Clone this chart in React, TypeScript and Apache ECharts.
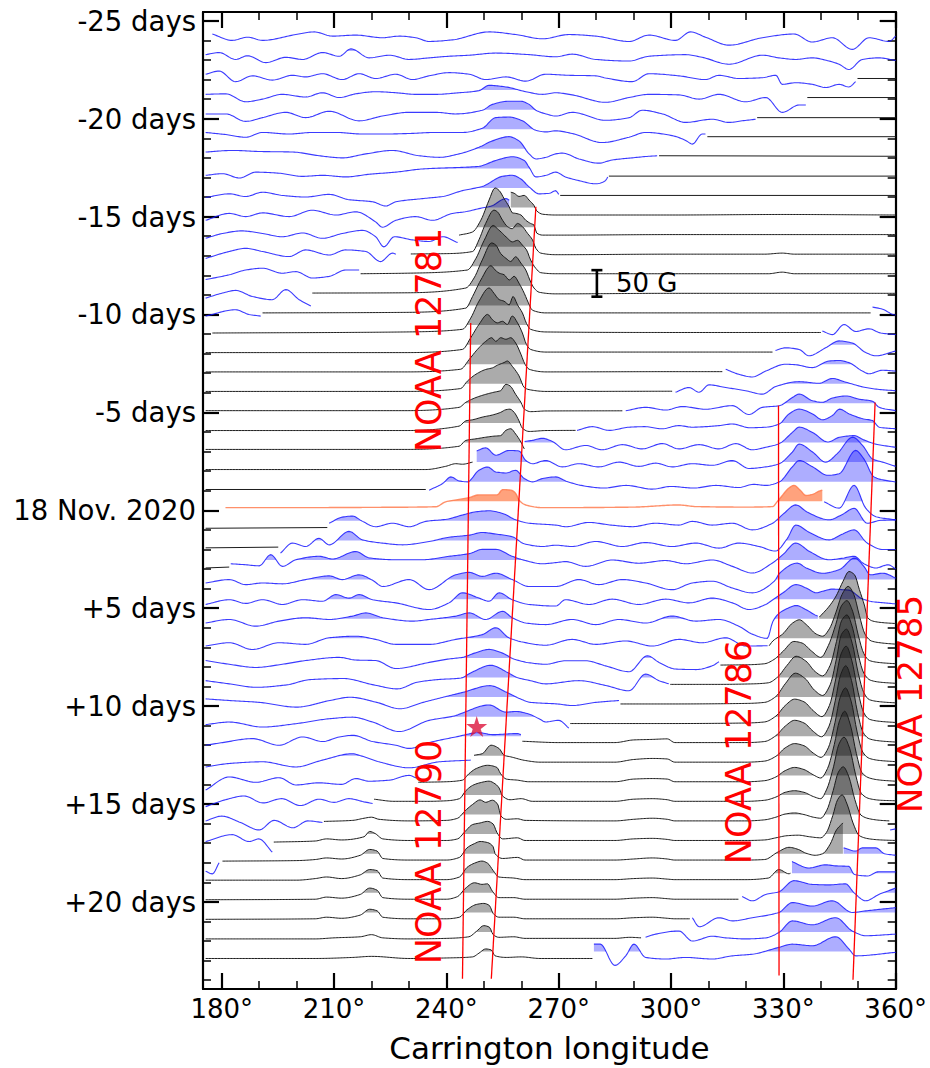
import React, { useEffect, useRef } from "react";
import * as echarts from "echarts";

// ---------- axes ----------
const LON_MIN = 175;
const LON_MAX = 360;
const DAY_MIN = -25.45;
const DAY_MAX = 24.45;
const X_MAJOR = [180, 210, 240, 270, 300, 330, 360];
const X_MINOR = [190, 200, 220, 230, 250, 260, 280, 290, 310, 320, 340, 350];
const Y_MAJOR = [-25, -20, -15, -10, -5, 0, 5, 10, 15, 20];
const Y_TICK_LABELS = ["-25 days", "-20 days", "-15 days", "-10 days", "-5 days", "18 Nov. 2020", "+5 days", "+10 days", "+15 days", "+20 days"];
const Y_MINOR = [-24, -23, -22, -21, -19, -18, -17, -16, -14, -13, -12, -11, -9, -8, -7, -6, -4, -3, -2, -1, 1, 2, 3, 4, 6, 7, 8, 9, 11, 12, 13, 14, 16, 17, 18, 19, 21, 22, 23, 24];

// ---------- scale ----------
const G_PER_ROW = 36.9; // field (G) equal to one day of row spacing
const FILL_THRESHOLD_G = 17;
const SCALE_BAR_G = 50;
const SCALE_BAR_POS = [280.2, -10.91];

// ---------- profiles: [day, [lon, G, lon, G, ...]] ----------
const BLUE_SEGMENTS = [
  [-24, [177.5,12, 182.8,0, 186.9,6, 190.9,0, 199.8,11, 204.7,16, 209.6,8, 215.8,10, 222.9,5, 227.4,8, 231.8,5, 235.4,-2, 241.6,1, 251.4,16, 258.5,11, 265.7,3, 272.7,11, 279.9,8, 288.8,-2, 294.1,10, 301.2,0, 305.2,16, 309.2,6, 315.5,-9, 324.4,5, 332.8,12, 337.7,-3, 343.1,5, 348.4,-17, 352.9,5, 358.2,-2, 360,8]],
  [-23, [175.7,10, 179.3,14, 183.7,1, 186.9,8, 191.8,-5, 197.1,5, 201.6,1, 206.9,14, 211.4,7, 214.5,21, 219.4,4, 224.8,9, 230.1,1, 235.4,4, 240.7,7, 246.1,9, 253.2,13, 262.1,10, 269.2,6, 273.6,11, 279.9,1, 288.8,-2, 294.1,7, 303.9,10, 308.3,5, 315.5,-8, 324.4,9, 328.8,4, 333.3,1, 337.7,4, 342.2,-2, 344.9,-8, 347.5,-18, 351.1,1, 355.5,4, 360,-1]],
  [-22, [175.7,10, 179.3,16, 183.7,-4, 188.2,7, 193.5,-1, 198.9,8, 202.4,5, 206.9,11, 212.2,0, 216.7,11, 221.1,2, 226.5,10, 230.9,0, 235.4,7, 240.7,13, 246.1,10, 250.5,0, 255.9,5, 261.2,-3, 266.5,10, 272.7,8, 279.9,7, 282.5,3, 289.6,-4, 294.1,11, 302.1,7, 309.2,0, 312.8,8, 318.1,2, 324.4,3.5, 328,8, 329.7,-9, 333.3,-6, 337.7,-9, 341.3,-15, 344.9,-9, 347.5,-14, 349.3,-4]],
  [-21, [175.7,9, 181.1,10, 186.4,-5, 190.9,0, 196.2,9, 202.4,4, 206.9,12, 211.4,3, 215.8,10, 221.1,14, 226.5,12, 231.8,9, 237.2,9, 243.4,12, 248.7,16, 251.4,26, 255.9,23, 261.2,14, 265.7,9, 269.2,12, 273.6,8, 282.5,-6, 288.8,3, 294.1,9, 302.1,8, 307.5,0, 312.8,9, 319.9,-5, 325.3,3, 329.7,-25, 334.2,-11, 336,-11]],
  [-20, [175.7,9, 181.1,9, 186.4,-5, 190.9,2, 197.1,12, 202.4,2, 208.7,14, 216.7,-4, 222.9,5, 230,12, 237.2,12, 242.5,9, 249.6,16, 252.3,27, 256.7,33, 259.9,33, 262.1,27, 263.9,16, 266.6,9, 269.2,5, 273.6,12, 282.5,-3, 288.8,2, 292.3,16, 297.7,9, 303.9,-7, 311,-1, 315.5,-7, 319,-4, 322.6,-1]],
  [-19, [175.7,11, 181.1,7, 186.4,2, 190.9,11, 198,8, 204.2,11, 210.5,11, 217.6,8, 222.9,8, 230,9, 237.2,11, 244.3,11, 249.6,19, 253.2,39, 256.7,40, 260.3,33, 263.9,15, 266.6,12, 269.2,14, 273.6,9, 281.6,-8, 288.8,2, 293.2,11, 300.3,5, 303.9,-4, 305.7,-11, 308.3,8, 309.2,8]],
  [-18, [175.7,11, 182.9,14, 190,12, 199,11, 206,4, 212.2,0, 218.5,7.5, 225.6,14, 232.7,4, 238.1,1, 243.4,7.5, 248.7,20, 252.3,32, 256.7,40, 259.4,32, 262.1,7.5, 263.9,-2, 266.6,1, 269.2,7.5, 271,9, 275.4,-2, 280.7,-10, 284.3,-4, 289.6,0, 293.2,2.5, 296.3,4]],
  [-17, [175.7,4, 180.2,7, 184.7,-1, 189.1,10, 195.3,8, 201.6,2, 206.9,4, 213.1,1, 219.4,6, 226.5,10, 233.6,16, 239.8,18, 244.3,19, 248.7,21, 253.2,32, 257.6,39, 260.8,32, 262.1,19, 263.9,1, 266.6,4, 269.2,10, 271.8,1, 275.4,-6, 279.9,-12, 282.5,-6, 283.1,1]],
  [-16, [175.7,-1, 182,6, 186.4,1, 190.9,9, 196.2,3, 202.4,0, 208.7,5, 214,-5, 220.3,-9, 223.8,-17, 226.5,-9, 233.6,-3, 239,1, 244.3,12, 249.6,20, 255,39, 257.6,41, 259.9,34, 262.1,19, 264.8,6, 267.5,7, 269.2,12, 270,5]],
  [-15, [175.7,-7, 182,6, 186.4,0, 190.9,7, 198,0, 204.2,12, 210.5,3, 215.8,9, 221.1,-10, 222.9,-20, 226.5,-7, 231.8,0, 236.3,-7, 241.6,6, 245,9, 248.7,15, 252,20, 255.9,34, 256.8,31]],
  [-14, [175.7,-4, 180.2,5, 185.3,10, 190.9,5, 196.2,-1, 201.6,6, 206.9,-4, 212.2,5, 217.6,11, 221.1,-1, 223.3,-20, 226.1,-1, 230.9,-7, 235.4,-10, 239,-1, 243,-12]],
  [-13, [175.7,-5, 182,8, 186.4,14, 190.9,8, 198,-1.5, 202.4,11, 208.7,1.5, 213.1,11, 218.5,8, 222.4,-11, 225.6,5, 226.5,3]],
  [-12, [175.7,-8, 182,1, 186.4,10, 190.9,13.5, 196.2,4, 199.8,7, 204.2,-5, 208.7,-2, 213.1,10, 216.7,10]],
  [-11, [175.7,-6, 180.2,3.5, 183.7,8.5, 188.2,-3, 193.5,-9, 197.1,10, 200.7,-9, 203.8,-21]],
  [-10, [175.7,-3, 183.7,9, 187.3,0, 190.4,-3]],
  [-10, [353.8,14, 356.5,10, 359.3,0, 360,-1]],
  [-9, [340.4,6, 343.1,-1, 346.2,18, 349.3,5, 352.9,10, 356,2, 360,-1]],
  [-8, [327.9,6, 330.6,11, 334.2,8, 336.8,-4, 341.3,11, 344.9,24, 348.4,20, 352,2, 354.7,-4, 360,5]],
  [-7, [314.6,7.5, 318.1,-2, 321.7,-7, 325.3,4, 330.6,17, 333.3,16, 337.7,10.6, 342.2,23, 344.9,24, 347.5,20, 351.1,4, 352.9,-1, 356.4,5.6, 360,4]],
  [-6, [301.2,1, 304.8,10, 307.5,1, 310.1,15, 314.6,10, 319.9,4, 324.4,-2.5, 328,12, 334.2,21, 339.5,18, 343.1,27, 346.7,20, 352,10, 356,6, 360,4]],
  [-5, [287.9,3, 293.2,9.5, 298.6,4.5, 303,11, 309.2,6, 316.4,12.7, 320.8,-4, 324.4,9.5, 328.9,12.6, 332.4,28, 334.2,34.5, 337.8,22, 340.4,19, 343.1,27, 346.7,31, 350.2,25, 353.8,21, 355.6,9.5, 360,3.3]],
  [-4, [274.9,3, 279,10, 283.5,3, 288.8,9, 293,10, 297.6,6, 302,12, 305.7,9, 309.2,10, 312.8,12, 316.4,15, 321,8, 325.3,9, 328.9,15, 331.5,34, 334.2,43, 337.8,34, 340.4,23, 343.1,31, 345,43, 347.6,34, 351.2,25, 353.8,21.5, 355.6,9, 360,6]],
  [-3, [260.9,19, 262.9,21, 265.7,25, 268.3,19, 271.8,3.4, 277.2,11.5, 281.6,3.4, 287,13, 292.3,5, 297.7,15, 302.1,5, 307.5,13, 312.8,5, 317.3,15, 321.7,3.4, 325.3,8, 328.9,15, 332.4,36, 334.2,46, 337.8,36, 341.9,18, 345,27, 348.9,30, 351.5,22, 354.7,14, 360,8]],
  [-2, [248.1,38, 250.5,44, 253.2,30, 256.7,39, 259.4,38, 261.2,20, 263,14, 266.5,20, 271,8, 275.4,14, 280.7,8, 286.1,17, 291.4,9, 295.9,15, 300.3,8, 305.7,14, 311,11, 316.4,20, 320.8,5, 325.3,8, 328.9,14, 332.4,36, 334.2,51, 337.8,36, 341.3,17, 344.4,33, 348.5,64, 351.2,48, 353.8,23, 356.5,17, 360,9]],
  [-1, [235.4,1, 239,13.5, 241.2,26, 243.4,18.5, 245.6,16.7, 248.7,38.5, 251,44.7, 253.2,35.4, 255.9,33.5, 258.5,38.5, 260.8,23, 263,16.7, 265.7,23, 269.2,26, 272,18, 276,10, 282,5, 288,10, 295,3, 300,8, 306,5, 312,10, 318,6, 322,12, 325.3,10, 328.9,16.5, 332.4,45, 334.2,57, 337.8,45, 341.9,29, 344.9,32, 349.3,76, 351.5,60, 354.2,26, 356.9,20, 360,16.5]],
  [0, [340.9,16, 344.9,4, 348.9,47, 352,4, 354.7,-12, 360,-18]],
  [1, [208.7,12.5, 212.2,24, 214.9,26, 217.6,16, 221.1,6, 225.6,12.5, 230.1,6, 234.5,16, 240,20, 244.3,28, 247.9,34, 251.4,36, 255,31, 258.5,19, 262.1,12.5, 269.2,9, 272,6, 278,14, 284,9, 289.6,6, 296,12.5, 302,9, 305.7,16, 311,9, 316.4,12.5, 321.7,0, 327,12, 330,30, 333.3,47, 336.5,33, 342.2,19, 345.5,28, 348.9,40.6, 352.4,12.5, 356,18, 360,19]],
  [2, [195.7,-7, 198.9,12, 202.4,5.6, 206,21, 208.7,8.7, 214,34, 217.6,18, 222.9,12, 228.3,8.7, 235.4,15, 240.7,23, 246.1,27, 249.6,32, 253.2,29, 257.6,24, 260.8,10.6, 265.7,5.6, 269.2,8, 273.6,5.6, 279.9,15, 287,5.6, 293.2,13, 300.3,5.6, 306.6,12, 312.8,2.5, 318.1,12, 323.5,5.6, 327.9,-3, 331,20, 333.3,46, 337,32, 342.2,18, 345.5,28, 348.9,37, 352.4,12, 356.5,0, 360,0]],
  [3, [182.4,10, 186.4,8, 190,6, 193.1,27, 196.2,5, 199.8,17.5, 206,24, 209.6,19, 215.8,33, 219.4,21, 226.5,17.5, 233.6,17.5, 240.7,24, 246.1,29, 249.6,37, 253.2,37, 257.6,24, 260.3,17.5, 265.7,10, 269.2,12, 271.8,14, 277.2,5, 284.3,17, 291.4,11, 298.6,16, 303.9,10, 311,17, 316.4,5, 321.7,-7.5, 327,11, 330,28, 333.3,49, 337,33, 342.2,17.5, 345.5,20, 348.9,24, 351.5,10, 354.7,2, 358,8, 360,0]],
  [4, [175.7,10.6, 182,17, 186.4,7.5, 190.9,10.6, 196.2,9, 202.4,17, 208.7,24, 212.2,17, 216.7,26, 220.3,15.6, 223,4, 230.1,17, 235.4,-2, 242.5,26, 246.1,30.6, 249.6,23, 253.2,29, 257.6,17, 262.1,4, 269.2,4, 275.4,17, 280.7,7.5, 287,17, 293.2,10.6, 300.3,-2, 305.7,10.6, 311,14, 316.4,1, 321.7,-8, 327.6,14, 329,29, 333.7,48, 336.1,39, 340.5,29, 345,36, 349,57.5, 351.5,42, 353.2,26, 356.6,29, 360,20]],
  [5, [175.7,7, 182,16, 186.4,9, 190.9,16, 196.2,7, 201.6,16, 206.9,13, 210.5,25.6, 214,19, 216.7,25.6, 220.3,16, 226.5,10, 235.4,-2.5, 240.7,10, 244.3,29, 248.7,19, 251.4,13, 254.1,29, 257.6,16, 262.1,7, 269.2,4, 271.8,16, 278.1,7, 284.3,17, 291.4,7, 298.6,17, 304.8,10, 311,19, 316.4,10, 320.8,-2.5, 325.3,7, 327.2,16, 329.9,29, 333.4,44.5, 336.1,38, 338.8,29, 340.5,32, 343.2,36, 345.5,35, 347.5,34, 351,18, 354,12, 357,10, 360,8]],
  [6, [175.7,9, 182,15.6, 189.1,3, 195.3,12.5, 202.4,19, 208.7,15.6, 214.9,22, 218.5,28, 223,19, 231,12.5, 235.4,15.6, 242.5,22, 246.1,28, 250.5,15.6, 255,31, 257.6,19, 261.2,9, 266.5,6, 273.6,15.6, 279.9,6, 286.1,15.6, 293.2,9, 300.3,22, 306.6,12.5, 312.8,15.6, 318.1,3, 321.7,-12, 325.7,-20, 327.2,12, 329,28, 331.6,38, 333.4,42, 336.1,34, 338.8,23, 339.2,22]],
  [7, [175.7,2.5, 182,8.7, 188.2,-4, 195.3,8.7, 202.4,5.6, 208.7,18, 215.8,21, 221.1,15, 226.5,5.6, 235.4,5.6, 242.5,15, 249.6,24, 253.2,37, 256.7,18, 260.3,10, 266.5,4, 273.6,15, 279.9,5.6, 287.9,12, 295,2.5, 302.1,15, 308.3,8.7, 314.6,18, 319.9,2.5, 325.8,3]],
  [8, [175.7,12, 182,5, 189.1,-1, 196.2,5, 202.4,12, 211.4,18, 215.8,13, 221.1,12, 226.5,-3, 235.4,8.5, 240.7,15, 244.3,18, 247.5,26, 251.4,33, 255,26, 258,15, 262,8, 266.5,5, 271.8,11.6, 277.2,11.6, 282.5,2, 288.8,-9, 293.7,21, 296.8,8.5, 301.2,-4, 306.6,-5, 311,2, 312.8,9.7]],
  [9, [175.7,11, 182,5, 189.2,-1.5, 197.3,3, 203.6,13, 212.5,15, 220.6,3, 226.9,-4.5, 232.2,8, 237.6,13, 243.9,16, 246.6,26, 251.9,40, 256.3,26.6, 258.9,17, 262.5,11, 266.5,5, 275.4,11, 282.5,2, 288.8,-8, 293.2,23.5, 296.8,11, 299.4,5]],
  [10, [175.7,13.6, 182,10.5, 190,7, 200,-2, 208.9,10.5, 214.3,16.7, 221.4,7, 227.6,-5, 233.8,7, 240.9,19.8, 244.5,26, 251.6,38.5, 256.1,26, 259.7,13.6, 262.5,7, 269.7,4, 273.6,1, 279.9,7, 286.1,10.5]],
  [11, [175.7,2, 182,6.8, 190.9,-2.6, 199.8,3.7, 208.7,13, 214.9,16, 220.3,6.8, 227.4,-11, 235.4,10, 242.5,19, 244.3,24, 251.4,39, 255.9,25.5, 258.5,26.8, 262,22, 265,12, 266.5,7, 270,10, 272.7,-4.5]],
  [12, [175.7,0, 180.2,5, 188.2,12.5, 195.3,0, 201.6,15.6, 207,7, 211.4,15.6, 215,18.7, 220.3,7, 226.5,0, 230.1,-6, 235.4,5, 242.5,15.6, 248.7,23.7, 252.3,20, 259,22, 259.9,20]],
  [13, [175.7,-4, 182,2.5, 190.9,5.7, 199.8,-4, 206.9,8.8, 214.9,21, 216.7,18, 222,5.7, 230.1,-5.6, 238.1,5.7, 246.5,8.8]],
  [14, [175.7,-10.7, 182,14, 189.1,4, 195.3,12.6, 199.8,-1, 206,3, 212,0, 215.8,11, 219.4,6, 224.8,8, 230,17, 232,12]],
  [15, [175.7,-5, 181,8, 186,15, 191,2, 196,10, 201,-3, 206,9, 210,3, 214,10, 218,4, 220.3,1]],
  [16, [175.7,5, 180,14, 185,2, 190,-12, 194,6, 199,-8, 203,5, 206.9,2]],
  [16, [358.5,-12, 360,-10]],
  [17, [175.7,3, 182.8,16, 187.3,3, 189.9,8, 193.5,-17]],
  [18, [175.7,-16, 177.5,-21, 179.3,0]],
  [18, [346.1,28, 349.3,22, 351.1,28, 354.7,28, 357,17, 360,14]],
  [19, [332.3,39, 336.8,27, 341.3,33, 343.9,31, 347.5,30, 348.9,15, 352.5,12, 355.5,20, 360,20]],
  [20, [319,10, 321.7,2, 325.3,14, 328.8,19, 332.8,40, 337.7,33, 342.2,32, 346.6,34, 348.9,17, 352,2, 355.5,14, 360,26]],
  [21, [305.7,7, 307.5,-10, 312.8,7, 316.4,1, 321.7,7, 328.8,17, 332.4,35.6, 337.7,29, 343.1,39, 348.4,17, 352,20, 360,26]],
  [22, [293.2,7, 295.9,13, 302.1,19, 305.7,0, 311,9, 314.6,6, 319.9,4, 325.3,6, 328.8,16, 332.4,38, 337.7,30.6, 344,44, 348.4,19, 352,10, 360,13]],
  [23, [279.4,31, 281.1,31, 285,-9, 287.9,9, 290.1,31, 293.2,6, 298.6,3, 303.9,6, 311,3, 316.4,9, 321.7,12, 328.8,25, 332.4,31, 337.7,28, 344,45, 347.5,22, 349.3,9, 360,15.6]],
];

const BLACK_SEGMENTS = [
  [-22, [349.8,2, 360,2]],
  [-21, [336.4,3, 360,3]],
  [-20, [323,2, 360,2]],
  [-19, [309.7,3, 360,3]],
  [-18, [296.8,4, 360,3]],
  [-17, [283.4,2.5, 360,2.5]],
  [-16, [270.4,3, 360,3]],
  [-15, [257.2,46, 258.1,44, 259.4,38, 260.8,40, 262.1,31, 263.4,21, 264.1,11, 265.7,4.5, 269.2,3, 300,3, 330,4, 360,3]],
  [-14, [243.4,2, 247,8, 249.2,30, 251.4,68, 253,91, 254.1,86, 255.4,71, 256.8,55, 257.6,44, 258.5,43, 259.9,40, 261.2,30, 262.5,24, 263.4,21, 264.1,6, 265.7,2, 269.2,2, 300,3, 330,3, 360,3]],
  [-13, [230.5,3.4, 240,4, 247,8, 248.7,30, 250.5,61, 252.7,86, 253.6,83, 255,67, 256.3,55, 257.6,51, 259,61, 260.3,55, 261.7,42, 263,30, 263.9,14, 265.2,5, 269.2,2, 300,3, 325,3, 329.7,5, 333,3, 360,3]],
  [-12, [217.1,3, 229.2,4, 245.6,10, 247.9,32, 250.1,66, 252.5,94, 253.6,88, 255,79, 256.3,70, 257.6,63, 259,66, 260.3,57, 261.4,48, 262.5,29, 263.9,13, 265.2,5, 269.2,3, 300,3, 326,3, 329.7,6, 333,3, 360,3]],
  [-11, [204.2,3.5, 229.2,4, 245.2,13, 247.4,32, 249.6,66, 252.1,98, 253.2,94, 254.5,78, 255.9,69, 257.2,63, 258.5,72, 259.9,60, 261.2,47, 262.3,28, 263.4,13, 264.8,5, 269.2,2, 300,3, 360,3]],
  [-10, [190.9,3, 229,4, 245.2,12, 247,34, 249.2,65, 251.9,92, 253,84, 254.1,78, 255.4,75, 256.8,65, 258.1,72, 259.4,59, 260.8,40, 261.9,22, 263,8, 266.6,3, 300,3, 353.3,3]],
  [-9, [177.5,2, 229,4, 244.3,9, 246.5,30, 248.7,62, 251.4,87, 252.7,77, 254.1,65, 255.4,62, 256.8,55, 257.8,71, 259,55, 260.3,40, 261.4,20, 262.5,9, 266.6,4, 300,3, 340,3]],
  [-8, [175.7,2, 229.2,2, 244.3,8, 246.5,30, 248.7,55, 251,74, 252.3,64, 253.6,58, 255,61, 256.3,55, 257.6,71, 259,58, 260.3,39, 261.4,17, 262.5,8, 266.6,3, 300,3, 327.1,3]],
  [-7, [175.7,2.5, 229.2,2.5, 243.8,7.5, 246.1,26, 248.3,45, 250.5,60, 252.1,67, 253.2,60, 254.5,67, 255.9,64, 257.2,67, 258.5,57, 259.9,36, 261,17, 262.1,7.5, 266.6,2.5, 300,3, 313.7,3]],
  [-6, [175.7,2.6, 229.2,2.6, 243.8,8, 245.6,22, 247.9,35, 250.5,44, 252.3,47, 253.6,52, 255.4,57, 256.3,60, 257.6,50, 259.4,32, 260.8,10, 262.1,6, 266.6,2.6, 300.3,3]],
  [-5, [175.7,3.3, 229.2,3.3, 243.4,9.5, 245.2,19, 247.9,28, 250.5,34, 252.7,38, 254.5,41, 255.9,53, 257,50, 258.5,34, 259.9,19, 260.8,6.4, 262.5,1.4, 266.6,2.7, 287,3]],
  [-4, [175.7,2.7, 229.2,2.7, 243.4,11, 245.2,21, 247,23, 249.6,28, 252.3,32, 254.5,37, 255.9,42, 257,43, 258.1,37, 259.4,21, 260.3,7, 262.1,1, 266.6,2.7, 274.5,3]],
  [-3, [175.7,4, 229.2,4, 243.4,10, 245.2,21, 247.9,24, 250.5,27, 252.7,29, 254.5,30, 255.9,40, 257.2,43, 258.5,33, 259.9,18, 260.8,5]],
  [-2, [175.7,3, 234.5,3, 239.8,9, 242.5,14, 244.3,13, 247,17]],
  [-1, [175.7,2.3, 234.5,2.3]],
  [1, [175.7,3, 208.2,4.4]],
  [2, [175.7,3, 195.1,4.4]],
  [3, [175.7,2, 182,3.7]],
  [6, [339.6,20, 342.3,41, 344.1,60, 345.9,87, 347.5,106, 349,100, 350.3,72, 351.7,41, 352.5,19, 353.9,12.6, 356.6,9.6, 360,8]],
  [7, [326.2,3, 327.2,12, 329.8,25, 332.5,46, 334.3,52, 336.1,43, 338.8,25, 340.5,21, 342.3,35, 344,65, 345.7,100, 347.3,115, 348.8,100, 350.3,60, 351.8,25, 353.5,12, 356.6,8, 360,6]],
  [8, [313.2,3.5, 320,4, 325,6, 327.5,14, 330,30, 332.8,48, 335,45, 337.5,30, 340,18, 342,40, 344,80, 345.5,115, 347,125, 348.5,105, 350,60, 351.5,25, 353,12, 356,8, 360,6]],
  [9, [299.8,4, 312,4, 322,5, 326,7, 328.5,18, 331,40, 333.4,57, 336,48, 338.5,28, 340.5,20, 342.5,40, 344.2,85, 345.6,125, 347,135, 348.5,110, 350,60, 351.5,25, 353.2,12, 356,8, 360,6]],
  [10, [286.5,4, 300,4, 320,5, 325,7, 328,18, 330.5,42, 333.2,62, 335.8,52, 338.3,30, 340.5,20, 342.5,40, 344.2,90, 345.5,135, 346.9,145, 348.4,118, 350,62, 351.5,25, 353,12, 356,8, 360,6]],
  [11, [273.1,4, 300,4, 320,5, 325,7, 328,18, 330.5,38, 333,50, 335.5,45, 338,28, 340.3,17, 342.3,38, 344,88, 345.4,135, 346.8,150, 348.3,122, 350,62, 351.5,24, 353,12, 356,8, 360,6]],
  [12, [260.3,7.5, 270,5, 285,5, 290,10, 295,11, 299,12, 301,5, 320,5, 325,7, 328,18, 330.5,36, 333,47, 335.5,42, 338,26, 340.2,16, 342.2,36, 343.9,85, 345.3,133, 346.7,150, 348.2,122, 349.8,62, 351.3,24, 353,12, 356,8, 360,6]],
  [13, [247.4,18, 249.6,21, 251.9,37, 254.1,30.6, 255.4,18, 257.2,15, 261.2,8, 265,5, 285,5, 290,10, 295,12, 299,11, 301,5, 320,5, 325,7, 328,16, 330.5,32, 333,40, 335.5,36, 338,22, 340.1,14, 342,32, 343.8,80, 345.2,128, 346.6,145, 348.1,120, 349.7,62, 351.2,24, 353,12, 356,8, 360,6]],
  [14, [232.5,4, 240,5, 244.3,8, 246,20, 248,30, 251,36, 253.5,32, 254.5,20, 256,10, 259,8, 262,5, 285,5, 290,10, 295,11, 299,10, 301,5, 320,5, 325,7, 328,14, 330.5,26, 333,32, 335.5,28, 338,18, 340,12, 341.8,30, 343.6,75, 345,120, 346.4,138, 347.9,112, 349.5,58, 351,22, 353,12, 356,8, 360,6]],
  [15, [220.7,9, 226,5, 235,5, 240,6, 243.5,10, 245.2,25, 247,35, 249,40, 251.4,43, 253,38, 254.1,30, 255,15, 257,8, 260,10, 263,5, 285,5, 290,9, 295,10, 299,8, 301,5, 320,5, 325,7, 328,13, 330.5,22, 333,25, 335.5,22, 338,14, 340,10, 341.6,28, 343.4,70, 344.8,112, 346.2,126, 347.7,105, 349.3,55, 350.8,20, 353,10, 356,7, 360,6]],
  [16, [207.3,4, 215,6, 218,10, 220,12, 222,8, 230,5, 240,6, 243,10, 245,24, 247,36, 249,44.6, 250.5,40, 252.3,44, 253.8,35, 254.5,15, 256,8, 259,9, 261,6, 285,5, 290,8, 295,10, 299,8, 301,5, 320,5, 325,7, 328,12, 330.5,18, 333,20, 335.5,17, 338,12, 340,10, 341.6,25, 343.3,62, 344.7,97, 346,107, 347.5,88, 349.1,45, 350.7,16, 353,9, 356,6, 358.3,5]],
  [17, [193.9,2, 205,4, 208,8, 212,6, 218,12, 219.5,22, 221,18, 223,8, 230,5, 240,5, 243,8, 245,22, 247,35, 249,38, 251,41, 252.5,36, 253.5,20, 255,8, 259,10, 261,5, 285,5, 290,8, 295,9, 299,7, 301,5, 320,5, 325,6, 328,10, 331,14, 334,15, 337,12, 340,10, 341.5,20, 343.2,52, 344.5,82, 345.7,91, 347.1,72, 348.6,38, 350.3,14, 353,8, 356,6, 360,5]],
  [18, [180.2,3, 200,4, 205,6, 208,9, 212,7, 217,14, 219.5,25, 221.5,22, 223,8, 230,5, 240,5, 243.5,10, 245.5,28, 247.5,36, 249,40, 251,38, 252.5,30, 253,17, 255,8, 259,10, 261,5, 285,5, 290,7, 295,9, 299,7, 301,5, 320,5, 325,6, 328.5,20, 331.5,29, 334,25, 336,18, 338.5,14, 340.5,17, 342.5,35, 344.2,62, 345.9,75]],
  [19, [175.7,4, 200,4, 205,7, 208,10, 212,7, 217,14, 219.5,24, 221.5,22, 223,8, 230,5, 240,5, 243.5,10, 245.5,28, 247.5,36, 249.5,40, 251,36, 252.5,22, 254,10, 258,8, 261,5, 285,5, 290,7, 295,8, 299,6, 301,5, 320,5, 326,8, 328.8,24, 331.5,16, 331.9,17]],
  [20, [175.7,4, 205,5, 208,9, 212,7, 217,14, 219.5,26, 221.5,22, 223,8, 230,5, 240,5, 243,10, 245,25, 247.5,36, 249.5,33, 251,34, 252.3,20, 254,8, 258,8, 261,5, 285,5, 290,7, 295,8, 299,6, 301,5, 318,5]],
  [21, [175.7,4, 205,5, 208,8, 212,6, 217,12, 219.5,23, 221.5,20, 223,8, 230,5, 240,5, 243.5,8, 245.5,22, 248,32, 250,34, 251.5,30, 252.5,15, 254,8, 258,8, 261,5, 285,5, 290,7, 295,8, 299,6, 301,5, 305,5]],
  [22, [175.7,4, 205,4, 210,6, 217,8, 220,12, 223,6, 230,4, 240,5, 246,8, 248,18, 250,29, 251.5,26, 252.5,12, 254,7, 258,8, 261,5, 285,5, 289,7, 292,6]],
  [23, [175.7,4, 205,4, 215,6, 220,8, 230,4, 240,5, 247,7, 248.7,14, 250.5,22, 252,20, 253,9, 256,6, 260,7, 265,4, 279,4]],
];

const ORANGE_SEGMENTS = [
  [0, [181,5, 200,5, 220,5.5, 237.2,6.7, 239.8,16, 243.4,20.5, 246.1,24, 248.7,29, 251.4,29, 253.6,29, 255,39, 257.2,38, 258.5,32, 259.4,19, 261.2,10, 265.7,5, 270,5, 290,6, 302.1,10, 306.6,7, 320,6, 327.2,7, 328.2,15, 329.5,26, 331.5,42, 332.8,47, 334.5,38, 336,28, 337.8,30, 339.5,36, 340.4,38]],
];

// ---------- annotations ----------
const RED_LINES = [
  [246.5, -9.57, 244.3, 23.93],
  [263.9, -15.5, 252.0, 23.93],
  [328.7, -5.35, 328.85, 23.76],
  [354.5, -5.51, 348.6, 23.98],
];
const STAR_POINT = [248.1, 11.04];
const NOAA_LABELS = [
  { text: "NOAA 12781", x: 429, y: 340, size: 35 },
  { text: "NOAA 12790", x: 429, y: 852, size: 35 },
  { text: "NOAA 12786", x: 739, y: 752, size: 35 },
  { text: "NOAA 12785", x: 910, y: 704, size: 34 },
];

// ---------- styles ----------
const LINE_COLOR = { b: "rgba(25,25,255,0.85)", k: "#1c1c1c", o: "rgba(255,125,80,0.85)" };
const FILL_COLOR = { b: "rgba(0,0,255,0.32)", k: "rgba(0,0,0,0.33)", o: "rgba(255,105,45,0.62)" };
const LINE_WIDTH = { b: 1.1, k: 1.0, o: 1.4 };
const FONT = "DejaVu Sans";

const SEGMENTS = [
  ...BLUE_SEGMENTS.map((s) => [s[0], "b", s[1]]),
  ...BLACK_SEGMENTS.map((s) => [s[0], "k", s[1]]),
  ...ORANGE_SEGMENTS.map((s) => [s[0], "o", s[1]]),
].sort((a: any, b: any) => a[0] - b[0]);

// monotone cubic (Fritsch-Carlson) sampling of pixel knots for drawing
function sampleSmooth(p: number[][]) {
  const n = p.length;
  if (n < 3) return p;
  const dx: number[] = [], s: number[] = [];
  for (let i = 0; i < n - 1; i++) {
    dx[i] = p[i + 1][0] - p[i][0];
    s[i] = dx[i] !== 0 ? (p[i + 1][1] - p[i][1]) / dx[i] : 0;
  }
  const m: number[] = new Array(n);
  m[0] = s[0];
  m[n - 1] = s[n - 2];
  for (let i = 1; i < n - 1; i++) {
    if (s[i - 1] * s[i] <= 0) m[i] = 0;
    else {
      const w1 = 2 * dx[i] + dx[i - 1];
      const w2 = dx[i] + 2 * dx[i - 1];
      m[i] = (w1 + w2) / (w1 / s[i - 1] + w2 / s[i]);
    }
  }
  const out: number[][] = [];
  for (let i = 0; i < n - 1; i++) {
    const h = dx[i];
    const steps = Math.max(2, Math.ceil(h / 1.5));
    for (let k = 0; k < steps; k++) {
      const t = k / steps;
      const t2 = t * t, t3 = t2 * t;
      const h00 = 2 * t3 - 3 * t2 + 1, h10 = t3 - 2 * t2 + t, h01 = -2 * t3 + 3 * t2, h11 = t3 - t2;
      out.push([p[i][0] + t * h, h00 * p[i][1] + h10 * h * m[i] + h01 * p[i + 1][1] + h11 * h * m[i + 1]]);
    }
  }
  out.push(p[n - 1]);
  return out;
}

export default function App() {
  const ref = useRef<HTMLDivElement>(null);
  useEffect(() => {
    if (!ref.current) return;
    const chart = echarts.init(ref.current, null, { renderer: "svg" });

    const renderSegment = (params: any, api: any) => {
      const seg: any = SEGMENTS[params.dataIndex];
      const day = seg[0], kind = seg[1], arr = seg[2];
      const knots: number[][] = [];
      for (let i = 0; i < arr.length; i += 2) knots.push(api.coord([arr[i], day - arr[i + 1] / G_PER_ROW]));
      const curve = sampleSmooth(knots);
      const thrY = api.coord([arr[0], day - FILL_THRESHOLD_G / G_PER_ROW])[1];
      const children: any[] = [];
      if (curve.some((q) => q[1] < thrY - 0.2)) {
        const poly = [[curve[0][0], thrY], ...curve.map((q) => [q[0], Math.min(q[1], thrY)]), [curve[curve.length - 1][0], thrY]];
        children.push({ type: "polygon", shape: { points: poly }, style: { fill: FILL_COLOR[kind], stroke: "none" }, silent: true });
      }
      children.push({ type: "polyline", shape: { points: curve }, style: { stroke: LINE_COLOR[kind], lineWidth: LINE_WIDTH[kind], fill: "none" }, silent: true });
      return { type: "group", children };
    };

    const renderScaleBar = (params: any, api: any) => {
      const bottom = api.coord([SCALE_BAR_POS[0], SCALE_BAR_POS[1]]);
      const top = api.coord([SCALE_BAR_POS[0], SCALE_BAR_POS[1] - SCALE_BAR_G / G_PER_ROW]);
      const ls = { stroke: "#000", lineWidth: 2.6 };
      return {
        type: "group",
        children: [
          { type: "line", shape: { x1: bottom[0], y1: bottom[1], x2: top[0], y2: top[1] }, style: ls },
          { type: "line", shape: { x1: bottom[0] - 5.5, y1: bottom[1], x2: bottom[0] + 5.5, y2: bottom[1] }, style: ls },
          { type: "line", shape: { x1: top[0] - 5.5, y1: top[1], x2: top[0] + 5.5, y2: top[1] }, style: ls },
          { type: "text", x: bottom[0] + 19, y: (bottom[1] + top[1]) / 2, style: { text: SCALE_BAR_G + " G", fill: "#000", font: `26px "${FONT}"`, textAlign: "left", textVerticalAlign: "middle", verticalAlign: "middle" } },
        ],
      };
    };

    const axisLineOn = { show: true, onZero: false, lineStyle: { color: "#000", width: 2.2 } };
    const axisLineOff = { show: false, onZero: false };
    const baseX = { type: "value", min: LON_MIN, max: LON_MAX, splitLine: { show: false }, axisPointer: { show: false } };
    const baseY = { type: "value", min: DAY_MIN, max: DAY_MAX, inverse: true, splitLine: { show: false } };
    const tick = (vals: number[], len: number, w: number) => ({ show: true, inside: true, length: len, customValues: vals, lineStyle: { color: "#000", width: w } });

    chart.setOption({
      animation: false,
      textStyle: { fontFamily: FONT },
      grid: { left: 203, top: 12, width: 693, height: 982 },
      xAxis: [
        {
          ...baseX, position: "bottom",
          axisLine: axisLineOn,
          axisTick: tick(X_MAJOR, 16, 2.2),
          axisLabel: { show: true, customValues: X_MAJOR, formatter: (v: number) => `${v}°`, fontSize: 26, color: "#000", fontFamily: FONT, margin: 7 },
          name: "Carrington longitude", nameLocation: "middle", nameGap: 43,
          nameTextStyle: { fontSize: 31, color: "#000", fontFamily: FONT },
        },
        { ...baseX, position: "bottom", axisLine: axisLineOff, axisTick: tick(X_MINOR, 8, 1.5), axisLabel: { show: false } },
        { ...baseX, position: "top", axisLine: axisLineOn, axisTick: tick(X_MAJOR, 16, 2.2), axisLabel: { show: false } },
        { ...baseX, position: "top", axisLine: axisLineOff, axisTick: tick(X_MINOR, 8, 1.5), axisLabel: { show: false } },
      ],
      yAxis: [
        {
          ...baseY, position: "left",
          axisLine: axisLineOn,
          axisTick: tick(Y_MAJOR, 16, 2.2),
          axisLabel: { show: true, customValues: Y_MAJOR, formatter: (v: number) => Y_TICK_LABELS[Y_MAJOR.indexOf(Math.round(v))] || "", fontSize: 27.5, color: "#000", fontFamily: FONT, margin: 7 },
        },
        { ...baseY, position: "left", axisLine: axisLineOff, axisTick: tick(Y_MINOR, 8, 1.5), axisLabel: { show: false } },
        { ...baseY, position: "right", axisLine: axisLineOn, axisTick: tick(Y_MAJOR, 16, 2.2), axisLabel: { show: false } },
        { ...baseY, position: "right", axisLine: axisLineOff, axisTick: tick(Y_MINOR, 8, 1.5), axisLabel: { show: false } },
      ],
      series: [
        {
          type: "custom", xAxisIndex: 0, yAxisIndex: 0, clip: true, z: 2,
          data: SEGMENTS.map((s: any) => [s[2][0], s[0]]),
          renderItem: renderSegment,
        },
        ...RED_LINES.map((l) => ({
          type: "line", xAxisIndex: 0, yAxisIndex: 0, z: 5, showSymbol: false, silent: true,
          data: [[l[0], l[1]], [l[2], l[3]]],
          lineStyle: { color: "#ff0000", width: 1.3 },
        })),
        {
          type: "custom", xAxisIndex: 0, yAxisIndex: 0, z: 6, data: [SCALE_BAR_POS], renderItem: renderScaleBar,
        },
        {
          type: "scatter", xAxisIndex: 0, yAxisIndex: 0, z: 7, silent: true,
          symbol: "path://M50,0 L61.2,34.5 L97.6,34.5 L68.2,55.9 L79.4,90.5 L50,69.1 L20.6,90.5 L31.8,55.9 L2.4,34.5 L38.8,34.5 Z",
          symbolSize: 21, itemStyle: { color: "#dc143c" },
          data: [STAR_POINT],
        },
      ],
      graphic: NOAA_LABELS.map((l) => ({
        type: "text", x: l.x, y: l.y, rotation: Math.PI / 2, z: 10,
        style: { text: l.text, fill: "#ff0000", font: `${l.size}px "${FONT}"`, textAlign: "center", textVerticalAlign: "middle", verticalAlign: "middle" },
      })),
    });
    return () => chart.dispose();
  }, []);
  return <div ref={ref} style={{ position: "fixed", left: 0, top: 0, width: 930, height: 1068, background: "#fff" }} />;
}
